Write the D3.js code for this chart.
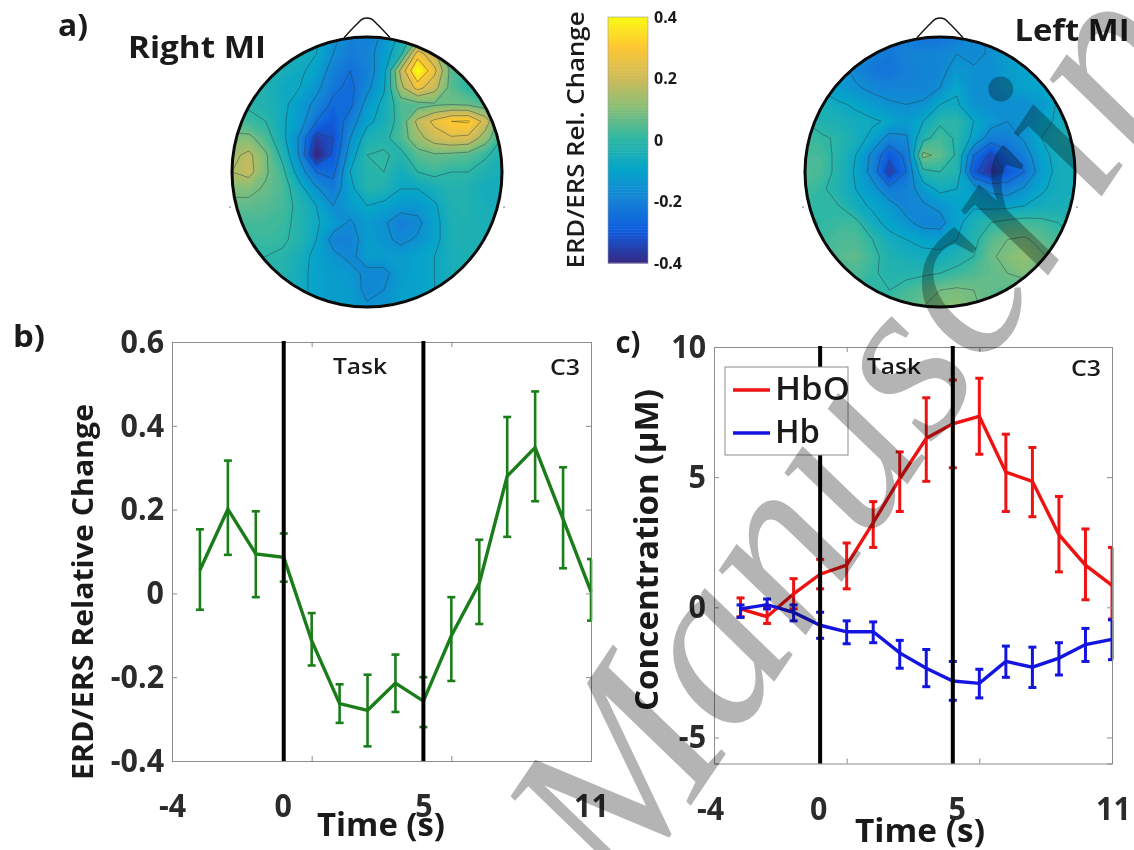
<!DOCTYPE html>
<html>
<head>
<meta charset="utf-8">
<script src="https://cdn.jsdelivr.net/npm/d3@7"></script>
<style>
  body { margin: 0; background: #fff; }
  svg { display: block; filter: blur(0.45px); }
  text { font-family: "Open Sans", "Noto Sans", sans-serif; fill: #1a1a1a; }
  .tick-num { font-weight: 700; font-size: 32px; fill: #2b2b2b; }
  .wm { font-family: "Liberation Serif", serif; font-style: italic; fill: #b4b4b4; mix-blend-mode: multiply; }
</style>
</head>
<body>
<svg id="fig" width="1134" height="850"></svg>
<script>
// panel a, scalp maps on a 17x17 grid
const rightMI = [
  [-.02,-.02,-.02,-.03,-.04,-.07,-.14,-.20,-.20,-.14,-.06,.05,.08,.03,.00,.00,.00],
  [-.02,-.02,-.02,-.03,-.05,-.08,-.16,-.21,-.19,-.12,-.02,.28,.18,.02,-.01,-.01,-.01],
  [-.02,-.02,-.03,-.05,-.07,-.10,-.20,-.24,-.20,-.11,.18,.42,.26,.05,.00,-.01,-.01],
  [-.01,-.02,-.03,-.07,-.08,-.14,-.22,-.26,-.18,-.09,.14,.27,.19,.05,.00,.00,.00],
  [.00,-.01,-.03,-.06,-.12,-.18,-.26,-.26,-.13,-.06,.04,.05,.07,.08,.07,.04,.01],
  [.04,.02,.00,-.07,-.12,-.24,-.30,-.20,-.10,-.05,.03,.18,.26,.32,.33,.21,.02],
  [.10,.10,.04,-.06,-.17,-.36,-.32,-.16,-.04,-.02,.04,.13,.20,.23,.22,.12,.00],
  [.14,.18,.09,-.02,-.17,-.42,-.30,-.12,.00,.01,-.02,.05,.07,.06,.05,.01,-.03],
  [.16,.19,.09,.02,-.12,-.24,-.26,-.08,-.02,.00,-.06,.00,.02,.00,.00,-.03,-.05],
  [.10,.10,.07,.04,-.05,-.15,-.21,-.10,-.02,-.03,-.08,-.08,-.05,-.02,-.03,-.06,-.06],
  [.06,.06,.05,.03,-.02,-.08,-.16,-.12,-.08,-.10,-.13,-.13,-.09,-.03,-.03,-.05,-.05],
  [.03,.03,.03,.02,-.02,-.07,-.12,-.17,-.12,-.15,-.20,-.18,-.10,-.04,-.03,-.05,-.05],
  [.00,.01,.02,.01,-.02,-.08,-.19,-.20,-.12,-.14,-.18,-.15,-.10,-.04,-.03,-.04,-.04],
  [-.01,.00,.00,-.01,-.05,-.10,-.14,-.18,-.12,-.12,-.12,-.10,-.08,-.05,-.04,-.04,-.04],
  [-.02,-.02,-.02,-.02,-.06,-.10,-.12,-.13,-.18,-.18,-.12,-.10,-.08,-.05,-.04,-.04,-.04],
  [-.03,-.03,-.03,-.03,-.06,-.10,-.12,-.12,-.18,-.16,-.11,-.10,-.08,-.06,-.05,-.05,-.05],
  [-.03,-.03,-.03,-.03,-.06,-.10,-.12,-.12,-.15,-.14,-.11,-.10,-.08,-.06,-.05,-.05,-.05]
];
const leftMI = [
  [-.10,-.11,-.12,-.14,-.16,-.18,-.21,-.24,-.23,-.21,-.18,-.15,-.12,-.10,-.09,-.07,-.05],
  [-.10,-.12,-.13,-.16,-.20,-.22,-.19,-.19,-.18,-.16,-.18,-.15,-.12,-.11,-.10,-.08,-.06],
  [-.10,-.11,-.13,-.18,-.22,-.23,-.20,-.19,-.18,-.13,-.15,-.16,-.12,-.10,-.08,-.07,-.05],
  [-.07,-.09,-.12,-.15,-.18,-.19,-.19,-.19,-.16,-.09,-.16,-.16,-.12,-.10,-.09,-.07,-.05],
  [-.03,-.05,-.07,-.09,-.12,-.15,-.16,-.15,-.08,-.07,-.14,-.16,-.16,-.16,-.13,-.07,-.05],
  [.00,-.03,-.04,-.06,-.07,-.09,-.12,-.08,-.01,.00,-.08,-.13,-.16,-.14,-.10,-.07,-.05],
  [.02,.01,-.01,-.05,-.10,-.19,-.17,-.02,.03,-.01,-.10,-.20,-.20,-.15,-.08,-.05,-.05],
  [.03,.03,-.02,-.08,-.18,-.30,-.22,.10,.06,-.01,-.24,-.34,-.26,-.20,-.10,-.06,-.05],
  [.05,.03,-.02,-.09,-.19,-.36,-.24,-.02,.00,-.02,-.30,-.38,-.30,-.24,-.12,-.06,-.05],
  [.03,.01,-.03,-.08,-.13,-.22,-.20,-.12,-.06,-.08,-.12,-.18,-.20,-.15,-.09,-.06,-.05],
  [.00,.00,.00,-.06,-.09,-.13,-.19,-.17,-.14,-.10,-.09,-.10,-.10,-.08,-.06,-.05,-.04],
  [-.03,.01,.02,.02,-.06,-.10,-.14,-.19,-.19,-.10,-.04,.00,.02,.03,.02,.00,-.03],
  [-.03,.02,.04,.04,.00,-.06,-.08,-.10,-.11,-.08,-.02,.05,.08,.09,.06,.03,.00],
  [-.03,.02,.05,.06,.02,-.03,-.05,-.06,-.06,-.03,.00,.07,.10,.12,.09,.05,.02],
  [-.03,.00,.03,.04,.01,-.02,-.02,-.01,.00,.02,.04,.06,.08,.10,.08,.05,.02],
  [-.03,-.01,.00,.01,.00,.00,.03,.05,.08,.09,.08,.06,.05,.04,.03,.02,.01],
  [-.03,-.01,.00,.01,.02,.03,.05,.08,.10,.11,.09,.06,.05,.04,.03,.02,.01]
];
const contourLevels = [-.32, -.24, -.16, -.08, 0, .08, .16, .24, .32];
const colorTicks = [0.4, 0.2, 0, -0.2, -0.4];
const parula = ['#352a87', '#0f5cdd', '#1481d6', '#06a4ca', '#2eb7a4', '#87bf77', '#d1bb59', '#fec832', '#f9fb0e'];

// panel b
const time = [-3, -2, -1, 0, 1, 2, 3, 4, 5, 6, 7, 8, 9, 10, 11];
const erd = [0.056, 0.201, 0.094, 0.086, -0.113, -0.263, -0.279, -0.214, -0.257, -0.101, 0.024, 0.28, 0.348, 0.177, 0.004];
const erdHi = [0.153, 0.317, 0.196, 0.143, -0.047, -0.217, -0.194, -0.146, -0.2, -0.009, 0.128, 0.421, 0.482, 0.301, 0.082];
const erdLo = [-0.039, 0.092, -0.009, 0.028, -0.172, -0.309, -0.365, -0.283, -0.319, -0.209, -0.073, 0.135, 0.22, 0.06, -0.065];

// panel c
const hbo = [-0.06, -0.36, 0.52, 1.27, 1.62, 3.25, 4.94, 6.49, 7.05, 7.34, 5.19, 4.84, 2.79, 1.62, 0.84];
const hboHi = [0.36, 0, 1.1, 1.84, 2.47, 4.06, 5.97, 8.05, 8.73, 8.8, 6.65, 6.14, 4.26, 3.01, 2.3];
const hboLo = [-0.36, -0.62, -0.06, 0.71, 0.71, 2.3, 3.68, 4.84, 5.36, 5.88, 3.68, 3.48, 1.36, 0.29, -0.45];
const hb = [-0.06, 0.1, -0.19, -0.69, -0.94, -0.94, -1.75, -2.34, -2.83, -2.92, -2.08, -2.3, -1.95, -1.43, -1.23];
const hbHi = [0.09, 0.32, 0.09, -0.19, -0.52, -0.56, -1.27, -1.62, -2.08, -2.38, -1.49, -1.53, -1.36, -0.81, -0.48];
const hbLo = [-0.39, -0.06, -0.52, -1.19, -1.4, -1.36, -2.34, -3.05, -3.57, -3.48, -2.69, -3.08, -2.6, -2.08, -2.01];

const xLabels = [-4, 0, 5, 11];
const xTicks = [-4, 1, 6, 11];

const svg = d3.select('#fig');
svg.append('rect').attr('width', 1134).attr('height', 850).attr('fill', '#fff');

const colorOf = d3.scaleLinear()
  .domain(d3.range(parula.length).map((i) => -0.4 + i * 0.1))
  .range(parula)
  .clamp(true);

function addText(str, x, y, size, opts = {}) {
  const t = svg.append('text')
    .attr('x', x).attr('y', y)
    .attr('font-size', size)
    .attr('font-weight', opts.weight || 700)
    .attr('text-anchor', opts.anchor || 'middle')
    .attr('dominant-baseline', 'middle')
    .text(str);
  if (opts.rotate) t.attr('transform', `rotate(${opts.rotate} ${x} ${y})`);
  if (opts.len) t.attr('textLength', opts.len).attr('lengthAdjust', 'spacingAndGlyphs');
  return t;
}

// Open Sans is wider than the original font, so pull tick numbers in
function squeeze(sel, k) {
  sel.each(function () {
    this.setAttribute('textLength', this.getComputedTextLength() * k);
    this.setAttribute('lengthAdjust', 'spacingAndGlyphs');
  });
}

function drawHead(grid, cx, cy, r, id) {
  const n = grid.length;
  const values = grid.flat();
  const step = r / ((n - 1) / 2);
  const proj = d3.geoTransform({
    point(x, y) {
      this.stream.point(cx - r + (x - 0.5) * step, cy - r + (y - 0.5) * step);
    }
  });
  const path = d3.geoPath(proj);
  const contours = d3.contours().size([n, n]);

  svg.append('clipPath').attr('id', id)
    .append('circle').attr('cx', cx).attr('cy', cy).attr('r', r);
  const g = svg.append('g').attr('clip-path', `url(#${id})`);

  // many thin bands read as a smooth colour field
  const bands = d3.range(-42, 43).map((d) => d / 100);
  g.selectAll('path.band')
    .data(contours.thresholds(bands)(values))
    .join('path')
    .attr('class', 'band')
    .attr('d', path)
    .attr('fill', (d) => colorOf(d.value));

  g.selectAll('path.iso')
    .data(contours.thresholds(contourLevels)(values))
    .join('path')
    .attr('class', 'iso')
    .attr('d', path)
    .attr('fill', 'none')
    .attr('stroke', '#2a3a4a')
    .attr('stroke-opacity', 0.45)
    .attr('stroke-width', 1);

  const ux = d3.scaleLinear().domain([-1, 1]).range([cx - r, cx + r]);
  const uy = d3.scaleLinear().domain([-1, 1]).range([cy - r, cy + r]);
  const nose = d3.line().curve(d3.curveCatmullRom.alpha(0.6)).x((d) => ux(d[0])).y((d) => uy(d[1]));
  svg.append('path')
    .attr('d', nose([[-0.17, -0.995], [-0.08, -1.09], [-0.03, -1.135], [0.03, -1.135], [0.08, -1.09], [0.17, -0.995]]))
    .attr('fill', 'none').attr('stroke', '#111').attr('stroke-width', 1.4);
  svg.append('circle').attr('cx', cx).attr('cy', cy).attr('r', r)
    .attr('fill', 'none').attr('stroke', '#0a0a0a').attr('stroke-width', 3);
  [-1.01, 1.01].forEach((e) => {
    svg.append('line')
      .attr('x1', ux(e)).attr('x2', ux(e * 1.01))
      .attr('y1', uy(0.26)).attr('y2', uy(0.26))
      .attr('stroke', '#444');
  });
}

drawHead(rightMI, 367, 172, 135, 'clip-right');
drawHead(leftMI, 940, 172, 135, 'clip-left');

// colour bar
const barScale = d3.scaleLinear().domain([-0.4, 0.4]).range([263, 17]);
svg.append('g').selectAll('rect')
  .data(d3.range(-40, 40).map((d) => d / 100))
  .join('rect')
  .attr('x', 608).attr('width', 40)
  .attr('y', (d) => barScale(d + 0.01))
  .attr('height', (d) => barScale(d) - barScale(d + 0.01) + 0.5)
  .attr('fill', (d) => colorOf(d));
svg.append('rect').attr('x', 608).attr('y', 17).attr('width', 40).attr('height', 246)
  .attr('fill', 'none').attr('stroke', '#999').attr('stroke-width', 0.6);
colorTicks.forEach((v) => {
  addText(v === 0 ? '0' : String(v), 654, barScale(v) + 1.5, 16, { anchor: 'start' }).attr('fill', '#222');
});
addText('ERD/ERS Rel. Change', 578, 140, 23, { weight: 600, rotate: -90, len: 257 });

addText('a)', 73, 28, 30, { len: 30 });
addText('Right MI', 197, 50, 31, { len: 138 });
addText('Left MI', 1072, 33, 31, { len: 115 });
addText('b)', 29, 339, 30, { len: 32 });
addText('c)', 628, 345, 30, { len: 25 });

function drawPanel(box, yDomain, yLabels, yRight, series, nudge, barWidth) {
  const x = d3.scaleLinear().domain([-4, 11]).range([box.left, box.right]);
  const y = d3.scaleLinear().domain(yDomain).range([box.bottom, box.top]);
  const g = svg.append('g');

  series.forEach((s) => {
    const sg = g.append('g');
    const bars = sg.selectAll('g').data(time).join('g');
    bars.append('line')
      .attr('x1', (d) => x(d)).attr('x2', (d) => x(d))
      .attr('y1', (d, i) => y(s.lo[i])).attr('y2', (d, i) => y(s.hi[i]));
    bars.append('line')
      .attr('x1', (d) => x(d) - 4).attr('x2', (d) => Math.min(x(d) + 4, box.right + 1))
      .attr('y1', (d, i) => y(s.hi[i])).attr('y2', (d, i) => y(s.hi[i]));
    bars.append('line')
      .attr('x1', (d) => x(d) - 4).attr('x2', (d) => Math.min(x(d) + 4, box.right + 1))
      .attr('y1', (d, i) => y(s.lo[i])).attr('y2', (d, i) => y(s.lo[i]));
    sg.attr('stroke', s.color).attr('stroke-width', barWidth);
    g.append('path')
      .attr('d', d3.line().x((d) => x(d)).y((d, i) => y(s.mean[i]))(time))
      .attr('fill', 'none').attr('stroke', s.color).attr('stroke-width', 3.4);
  });

  // inward ticks on all four sides, MATLAB box style
  const sides = [
    [d3.axisBottom(x).tickValues(xTicks).tickSize(-5), `translate(0,${box.bottom})`],
    [d3.axisTop(x).tickValues(xTicks).tickSize(-5), `translate(0,${box.top})`],
    [d3.axisLeft(y).tickValues(yRight).tickSize(-5), `translate(${box.left},0)`],
    [d3.axisRight(y).tickValues(yRight).tickSize(-5), `translate(${box.right},0)`]
  ];
  sides.forEach(([axis, tr]) => {
    const a = svg.append('g').attr('transform', tr).call(axis.tickFormat(''));
    a.selectAll('path,line').attr('stroke', '#8c8c8c').attr('stroke-width', 1);
  });

  [0, 5].forEach((t) => {
    svg.append('line')
      .attr('x1', x(t)).attr('x2', x(t))
      .attr('y1', box.top - 1).attr('y2', box.bottom)
      .attr('stroke', '#000').attr('stroke-width', 4);
  });

  const xa = svg.append('g').attr('transform', `translate(0,${box.bottom + 25})`)
    .call(d3.axisBottom(x).tickValues(xLabels).tickSize(0).tickPadding(0).tickFormat((d) => d));
  xa.select('.domain').remove();
  xa.selectAll('text').attr('class', 'tick-num').attr('dominant-baseline', 'middle').attr('y', 0)
    .attr('dx', (d, i) => nudge[i]);
  squeeze(xa.selectAll('text'), 0.95);

  const ya = svg.append('g').attr('transform', `translate(${box.left - 8},0)`)
    .call(d3.axisLeft(y).tickValues(yLabels).tickSize(0).tickPadding(0).tickFormat((d) => d));
  ya.select('.domain').remove();
  ya.selectAll('text').attr('class', 'tick-num');
  squeeze(ya.selectAll('text'), 0.95);
  return { x, y };
}

drawPanel(
  { left: 172, right: 591, top: 342, bottom: 761 },
  [-0.4, 0.6], [-0.4, -0.2, 0, 0.2, 0.4, 0.6], [-0.4, -0.2, 0, 0.2, 0.4, 0.6],
  [{ mean: erd, hi: erdHi, lo: erdLo, color: '#1a7d1a' }],
  [0, -1, 0, 0], 2.6
);
addText('Task', 360, 368, 21, { weight: 600, len: 54 });
addText('C3', 565, 369, 21, { weight: 600, len: 30 });
addText('ERD/ERS Relative Change', 85, 592, 29, { rotate: -90, len: 376 });
addText('Time (s)', 381, 827, 33, { len: 128 });

drawPanel(
  { left: 714, right: 1112, top: 347, bottom: 763.5 },
  [-6, 10], [-5, 0, 5, 10], [-5, 0, 5, 10],
  [
    { mean: hbo, hi: hboHi, lo: hboLo, color: '#ee1212' },
    { mean: hb, hi: hbHi, lo: hbLo, color: '#1414e0' }
  ],
  [-4, -2, 4, 1], 3
);
addText('Task', 894, 368, 21, { weight: 600, len: 54 });
addText('C3', 1086, 370, 21, { weight: 600, len: 30 });
addText('Concentration (\u00b5M)', 649, 550, 33, { rotate: -90, len: 322 });
addText('Time (s)', 920, 833, 33, { len: 130 });

// legend
svg.append('rect').attr('x', 725).attr('y', 367).attr('width', 123).attr('height', 88)
  .attr('fill', '#fff').attr('stroke', '#8c8c8c');
[['HbO', '#ee1212', 390, 75], ['Hb', '#1414e0', 433, 45]].forEach(([name, color, ly, len]) => {
  svg.append('line').attr('x1', 733).attr('x2', 770).attr('y1', ly).attr('y2', ly)
    .attr('stroke', color).attr('stroke-width', 3.4);
  addText(name, 775, ly + 1, 33, { anchor: 'start', weight: 600, len });
});

// journal watermark across the whole page
svg.append('text')
  .attr('class', 'wm')
  .attr('transform', 'translate(625,903) rotate(-56)')
  .attr('font-size', 236)
  .text('Manuscript');
</script>
</body>
</html>
